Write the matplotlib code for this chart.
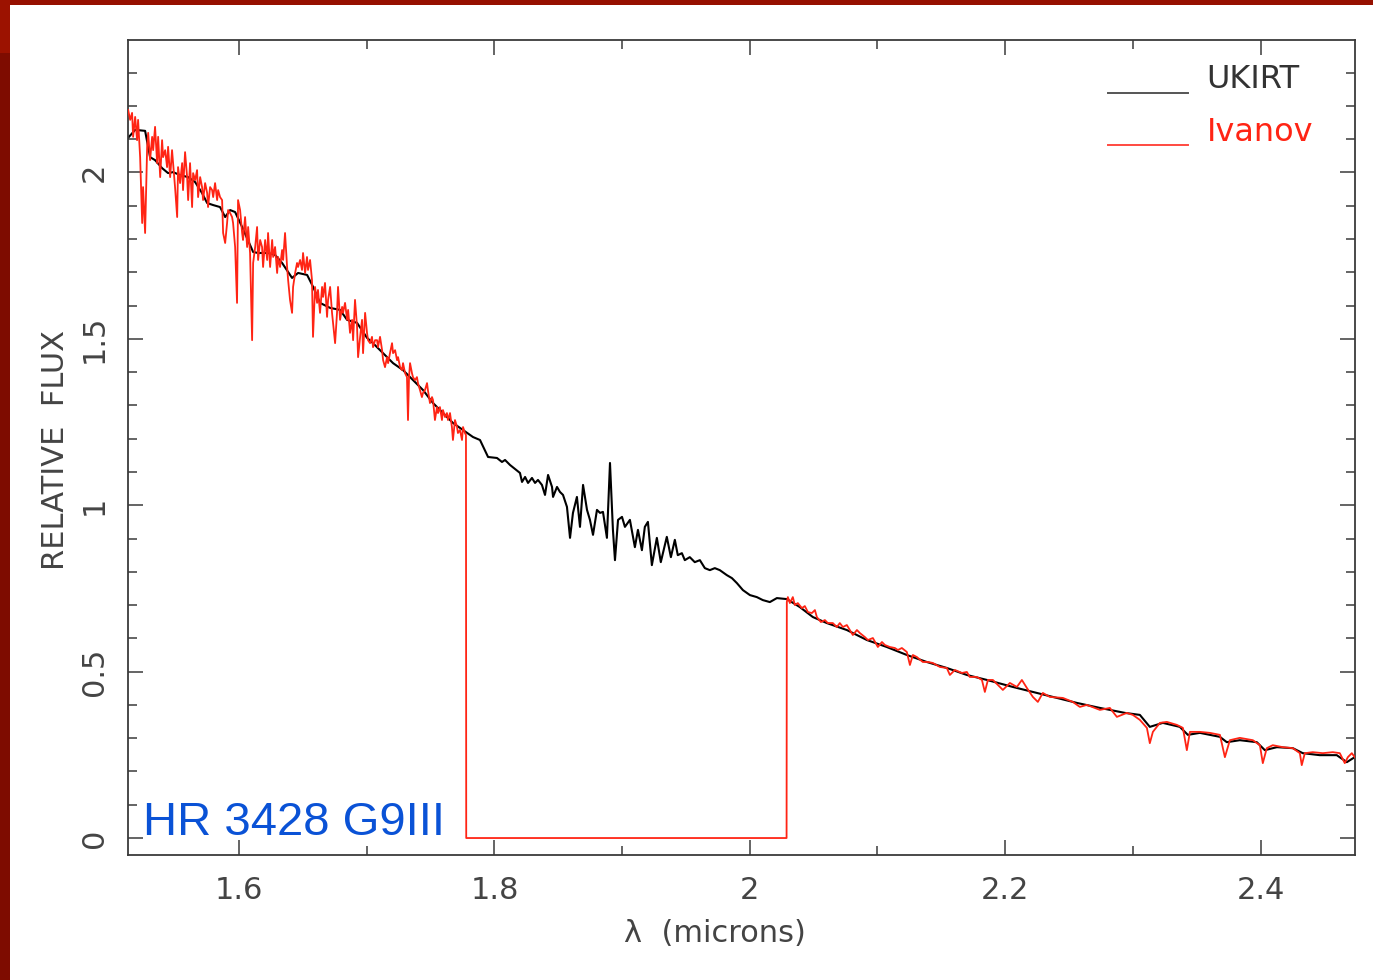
import matplotlib.pyplot as plt
from matplotlib.patches import Rectangle
from matplotlib.lines import Line2D
from matplotlib.ticker import MultipleLocator

# UKIRT spectrum (black)
ukirt_wave = [1.5131, 1.5186, 1.5264, 1.5303, 1.5342, 1.5397, 1.5444, 1.5483, 1.5538, 1.5601,
              1.5656, 1.5710, 1.5750, 1.5797, 1.5851, 1.5891, 1.5930, 1.5969, 1.6024, 1.6110,
              1.6149, 1.6227, 1.6282, 1.6337, 1.6415, 1.6462, 1.6533, 1.6580, 1.6634, 1.6713,
              1.6791, 1.6846, 1.6924, 1.7002, 1.7049, 1.7128, 1.7206, 1.7284, 1.7363, 1.7441,
              1.7519, 1.7597, 1.7676, 1.7754, 1.7832, 1.7887, 1.7950, 1.8020, 1.8059, 1.8083,
              1.8122, 1.8200, 1.8216, 1.8240, 1.8263, 1.8294, 1.8318, 1.8341, 1.8372, 1.8396,
              1.8420, 1.8451, 1.8459, 1.8490, 1.8513, 1.8537, 1.8568, 1.8592, 1.8615, 1.8646,
              1.8670, 1.8694, 1.8725, 1.8748, 1.8772, 1.8803, 1.8827, 1.8850, 1.8881, 1.8905,
              1.8928, 1.8944, 1.8968, 1.8999, 1.9022, 1.9061, 1.9100, 1.9124, 1.9155, 1.9178,
              1.9202, 1.9233, 1.9272, 1.9303, 1.9350, 1.9382, 1.9413, 1.9436, 1.9468, 1.9491,
              1.9530, 1.9569, 1.9609, 1.9648, 1.9687, 1.9726, 1.9765, 1.9820, 1.9860, 1.9899,
              1.9946, 2.0001, 2.0055, 2.0102, 2.0157, 2.0212, 2.0290, 2.0392, 2.0494, 2.0603,
              2.0760, 2.0917, 2.1073, 2.1230, 2.1386, 2.1543, 2.1700, 2.1857, 2.2060, 2.2217,
              2.2374, 2.2562, 2.2742, 2.2938, 2.3055, 2.3133, 2.3235, 2.3368, 2.3431, 2.3525,
              2.3682, 2.3736, 2.3838, 2.3971, 2.4034, 2.4128, 2.4253, 2.4331, 2.4464, 2.4597,
              2.4676, 2.4738]
ukirt_flux = [2.104, 2.128, 2.125, 2.046, 2.037, 2.013, 1.998, 2.001, 1.992, 1.986,
              1.971, 1.938, 1.908, 1.902, 1.896, 1.866, 1.887, 1.881, 1.836, 1.761,
              1.758, 1.758, 1.752, 1.728, 1.683, 1.698, 1.692, 1.656, 1.608, 1.593,
              1.587, 1.557, 1.548, 1.503, 1.487, 1.457, 1.427, 1.406, 1.376, 1.346,
              1.307, 1.277, 1.247, 1.226, 1.205, 1.196, 1.145, 1.142, 1.130, 1.136,
              1.121, 1.097, 1.070, 1.085, 1.067, 1.082, 1.067, 1.076, 1.061, 1.031,
              1.091, 1.055, 1.025, 1.055, 1.040, 1.031, 0.995, 0.902, 0.977, 1.025,
              0.935, 1.061, 0.986, 0.956, 0.911, 0.986, 0.977, 0.980, 0.902, 1.127,
              0.926, 0.835, 0.956, 0.965, 0.935, 0.956, 0.874, 0.926, 0.865, 0.935,
              0.950, 0.820, 0.902, 0.829, 0.905, 0.844, 0.896, 0.850, 0.856, 0.835,
              0.844, 0.829, 0.835, 0.811, 0.805, 0.811, 0.805, 0.790, 0.781, 0.766,
              0.745, 0.730, 0.724, 0.715, 0.709, 0.721, 0.718, 0.694, 0.664, 0.646,
              0.625, 0.595, 0.574, 0.550, 0.529, 0.511, 0.490, 0.475, 0.454, 0.439,
              0.424, 0.406, 0.391, 0.376, 0.370, 0.334, 0.346, 0.334, 0.310, 0.316,
              0.304, 0.288, 0.294, 0.288, 0.264, 0.273, 0.270, 0.255, 0.249, 0.249,
              0.228, 0.243]

# Ivanov spectrum (red), H band, zero-filled gap, K band
ivanov_wave = [1.5131, 1.5147, 1.5162, 1.5170, 1.5186, 1.5201, 1.5209, 1.5225, 1.5241, 1.5248,
               1.5264, 1.5280, 1.5288, 1.5303, 1.5319, 1.5327, 1.5342, 1.5358, 1.5366, 1.5382,
               1.5397, 1.5405, 1.5421, 1.5436, 1.5444, 1.5460, 1.5475, 1.5483, 1.5499, 1.5515,
               1.5522, 1.5538, 1.5554, 1.5561, 1.5577, 1.5593, 1.5601, 1.5616, 1.5632, 1.5640,
               1.5656, 1.5671, 1.5679, 1.5695, 1.5710, 1.5718, 1.5734, 1.5750, 1.5757, 1.5773,
               1.5789, 1.5797, 1.5812, 1.5828, 1.5836, 1.5851, 1.5867, 1.5875, 1.5891, 1.5906,
               1.5914, 1.5930, 1.5945, 1.5953, 1.5969, 1.5984, 1.5992, 1.6008, 1.6024, 1.6031,
               1.6047, 1.6063, 1.6071, 1.6086, 1.6102, 1.6110, 1.6126, 1.6141, 1.6149, 1.6165,
               1.6180, 1.6188, 1.6204, 1.6220, 1.6227, 1.6243, 1.6259, 1.6267, 1.6282, 1.6298,
               1.6306, 1.6321, 1.6337, 1.6345, 1.6360, 1.6376, 1.6384, 1.6399, 1.6415, 1.6423,
               1.6439, 1.6454, 1.6462, 1.6478, 1.6493, 1.6501, 1.6517, 1.6532, 1.6540, 1.6556,
               1.6571, 1.6579, 1.6595, 1.6611, 1.6618, 1.6634, 1.6650, 1.6658, 1.6673, 1.6689,
               1.6697, 1.6713, 1.6728, 1.6736, 1.6752, 1.6767, 1.6775, 1.6791, 1.6807, 1.6814,
               1.6830, 1.6846, 1.6854, 1.6869, 1.6885, 1.6893, 1.6908, 1.6924, 1.6932, 1.6948,
               1.6963, 1.6971, 1.6987, 1.7002, 1.7010, 1.7026, 1.7041, 1.7049, 1.7065, 1.7081,
               1.7088, 1.7104, 1.7120, 1.7128, 1.7143, 1.7159, 1.7167, 1.7182, 1.7198, 1.7206,
               1.7222, 1.7237, 1.7245, 1.7261, 1.7276, 1.7284, 1.7300, 1.7315, 1.7323, 1.7331,
               1.7339, 1.7354, 1.7362, 1.7378, 1.7393, 1.7401, 1.7417, 1.7432, 1.7440, 1.7456,
               1.7472, 1.7479, 1.7495, 1.7511, 1.7519, 1.7534, 1.7550, 1.7558, 1.7573, 1.7589,
               1.7597, 1.7613, 1.7628, 1.7636, 1.7652, 1.7667, 1.7675, 1.7691, 1.7707, 1.7714,
               1.7730, 1.7746, 1.7754, 1.7769, 1.7777, 1.7779,
               2.0288,
               2.0290, 2.0298, 2.0314, 2.0337, 2.0353, 2.0376, 2.0408, 2.0431, 2.0455, 2.0486,
               2.0510, 2.0525, 2.0557, 2.0588, 2.0611, 2.0650, 2.0682, 2.0705, 2.0729, 2.0760,
               2.0784, 2.0807, 2.0839, 2.0862, 2.0901, 2.0925, 2.0964, 2.1003, 2.1035, 2.1058,
               2.1097, 2.1136, 2.1160, 2.1191, 2.1230, 2.1254, 2.1277, 2.1308, 2.1355, 2.1395,
               2.1434, 2.1489, 2.1543, 2.1567, 2.1606, 2.1661, 2.1700, 2.1723, 2.1778, 2.1818,
               2.1841, 2.1865, 2.1904, 2.1959, 2.1982, 2.2037, 2.2092, 2.2131, 2.2170, 2.2217,
               2.2256, 2.2295, 2.2350, 2.2452, 2.2530, 2.2585, 2.2640, 2.2742, 2.2820, 2.2875,
               2.2953, 2.3000, 2.3055, 2.3110, 2.3133, 2.3157, 2.3212, 2.3266, 2.3345, 2.3392,
               2.3423, 2.3447, 2.3525, 2.3603, 2.3682, 2.3721, 2.3760, 2.3838, 2.3940, 2.3995,
               2.4018, 2.4049, 2.4096, 2.4175, 2.4253, 2.4308, 2.4323, 2.4347, 2.4409, 2.4488,
               2.4566, 2.4621, 2.4660, 2.4684, 2.4715, 2.4738]
ivanov_flux = [2.188, 2.158, 2.179, 2.107, 2.167, 2.097, 2.158, 2.046, 1.848, 1.956,
               1.818, 2.077, 2.119, 2.037, 2.107, 2.067, 2.137, 2.028, 2.107, 1.986,
               2.097, 2.046, 2.067, 2.016, 2.077, 1.986, 2.067, 2.028, 1.953, 1.866,
               2.016, 1.968, 2.028, 1.947, 2.061, 1.986, 1.917, 2.028, 1.896, 1.998,
               1.977, 2.007, 1.926, 1.986, 1.956, 1.917, 1.968, 1.938, 1.896, 1.956,
               1.947, 1.926, 1.968, 1.917, 1.947, 1.926, 1.917, 1.818, 1.788, 1.848,
               1.887, 1.878, 1.866, 1.848, 1.776, 1.608, 1.917, 1.887, 1.818, 1.797,
               1.866, 1.776, 1.836, 1.758, 1.496, 1.728, 1.776, 1.836, 1.737, 1.797,
               1.776, 1.716, 1.797, 1.737, 1.818, 1.716, 1.797, 1.746, 1.776, 1.698,
               1.746, 1.716, 1.767, 1.737, 1.818, 1.716, 1.677, 1.617, 1.578, 1.656,
               1.698, 1.728, 1.716, 1.737, 1.707, 1.758, 1.698, 1.746, 1.707, 1.737,
               1.677, 1.506, 1.656, 1.608, 1.647, 1.578, 1.656, 1.626, 1.668, 1.566,
               1.617, 1.656, 1.578, 1.548, 1.487, 1.578, 1.656, 1.557, 1.596, 1.578,
               1.608, 1.557, 1.587, 1.518, 1.557, 1.496, 1.617, 1.536, 1.445, 1.506,
               1.557, 1.457, 1.578, 1.518, 1.496, 1.487, 1.506, 1.475, 1.496, 1.496,
               1.475, 1.506, 1.466, 1.436, 1.415, 1.445, 1.427, 1.457, 1.487, 1.457,
               1.466, 1.436, 1.445, 1.415, 1.406, 1.427, 1.397, 1.385, 1.256, 1.385,
               1.427, 1.397, 1.385, 1.376, 1.385, 1.367, 1.346, 1.325, 1.337, 1.346,
               1.367, 1.346, 1.307, 1.325, 1.316, 1.256, 1.295, 1.277, 1.295, 1.256,
               1.286, 1.265, 1.277, 1.256, 1.277, 1.235, 1.196, 1.256, 1.235, 1.217,
               1.226, 1.196, 1.235, 1.217, 1.211, 0.0,
               0.0,
               0.709, 0.724, 0.706, 0.724, 0.700, 0.706, 0.691, 0.697, 0.679, 0.676,
               0.685, 0.664, 0.649, 0.655, 0.646, 0.646, 0.634, 0.646, 0.634, 0.640,
               0.625, 0.610, 0.625, 0.616, 0.604, 0.595, 0.601, 0.574, 0.589, 0.580,
               0.574, 0.571, 0.565, 0.571, 0.559, 0.520, 0.550, 0.544, 0.529, 0.529,
               0.526, 0.514, 0.511, 0.490, 0.505, 0.496, 0.499, 0.484, 0.484, 0.475,
               0.439, 0.475, 0.475, 0.454, 0.445, 0.466, 0.454, 0.475, 0.451, 0.424,
               0.409, 0.436, 0.424, 0.421, 0.409, 0.394, 0.400, 0.385, 0.391, 0.364,
               0.376, 0.370, 0.355, 0.331, 0.285, 0.319, 0.346, 0.349, 0.340, 0.331,
               0.264, 0.319, 0.319, 0.316, 0.310, 0.243, 0.294, 0.301, 0.294, 0.279,
               0.225, 0.270, 0.279, 0.273, 0.270, 0.255, 0.219, 0.255, 0.258, 0.255,
               0.258, 0.255, 0.225, 0.243, 0.255, 0.243]

star_name = "HR 3428 G9III"
series_names = ["UKIRT", "Ivanov"]

grey = "#3a3a3a"
red = "#ff2414"

fig = plt.figure(figsize=(13.73, 9.80), dpi=100)
fig.patch.set_facecolor("white")

# dark red slide frame on the top and left
fig.add_artist(Rectangle((0, 1 - 5 / 980), 1, 5 / 980, transform=fig.transFigure,
                         facecolor="#961000", edgecolor="none"))
fig.add_artist(Rectangle((0, 0), 10 / 1373, 1, transform=fig.transFigure,
                         facecolor="#7e0c00", edgecolor="none"))
fig.add_artist(Rectangle((0, 1 - 53 / 980), 10 / 1373, 53 / 980, transform=fig.transFigure,
                         facecolor="#9c1200", edgecolor="none"))

ax = fig.add_axes([128 / 1373, 1 - 855 / 980, 1227 / 1373, 815 / 980])

ax.plot(ukirt_wave, ukirt_flux, color="black", lw=1.5, zorder=2)
ax.plot(ivanov_wave, ivanov_flux, color=red, lw=1.3, zorder=3)

ax.set_xlim(1.513, 2.474)
ax.set_ylim(-0.051, 2.398)

ax.xaxis.set_major_locator(MultipleLocator(0.2))
ax.xaxis.set_minor_locator(MultipleLocator(0.1))
ax.yaxis.set_major_locator(MultipleLocator(0.5))
ax.yaxis.set_minor_locator(MultipleLocator(0.1))
ax.set_xticks([1.6, 1.8, 2.0, 2.2, 2.4])
ax.set_xticklabels(["1.6", "1.8", "2", "2.2", "2.4"])
ax.set_yticks([0, 0.5, 1, 1.5, 2])
ax.set_yticklabels(["0", "0.5", "1", "1.5", "2"])

ax.tick_params(which="both", direction="in", top=True, right=True, color=grey, width=1.1)
ax.tick_params(which="major", length=11)
ax.tick_params(which="minor", length=6.5)
ax.tick_params(axis="x", labelsize=22, labelcolor="#444444", pad=15)
ax.tick_params(axis="y", labelsize=22, labelcolor="#444444", pad=14, labelrotation=90)
for lab in ax.get_yticklabels():
    lab.set_va("center")

for sp in ax.spines.values():
    sp.set_color(grey)
    sp.set_linewidth(1.3)

ax.set_xlabel("λ  (microns)", fontsize=22, color="#444444")
ax.xaxis.set_label_coords(0.478, -0.078)
ax.set_ylabel("RELATIVE  FLUX", fontsize=22, color="#444444")
ax.yaxis.set_label_coords(-0.047, 0.497)

# legend drawn by hand in the upper right
ax.add_line(Line2D([0.799, 0.864], [0.935, 0.935], transform=ax.transAxes,
                   color="#555555", lw=1.4))
ax.text(0.879, 0.951, series_names[0], transform=ax.transAxes, fontsize=23,
        color="#333333", va="center", ha="left")
ax.add_line(Line2D([0.799, 0.864], [0.871, 0.871], transform=ax.transAxes,
                   color="#ff4a40", lw=1.4))
ax.text(0.879, 0.887, series_names[1], transform=ax.transAxes, fontsize=23,
        color=red, va="center", ha="left")

ax.text(0.012, 0.0245, star_name, transform=ax.transAxes, fontsize=34,
        family="Liberation Sans", color="#0a52d6", va="baseline", ha="left")

fig.savefig("out.png", dpi=100)
